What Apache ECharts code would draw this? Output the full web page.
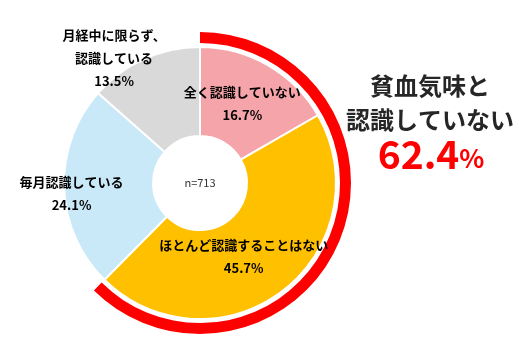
<!DOCTYPE html>
<html>
<head>
<meta charset="utf-8">
<script src="https://cdn.jsdelivr.net/npm/echarts@6/dist/echarts.min.js"></script>
<style>
  html, body { margin: 0; padding: 0; background: #fff; }
  #chart { width: 519px; height: 351px; }
</style>
</head>
<body>
<div id="chart"></div>
<script>
// 回答データ (n=713)
const categories = ['全く認識していない', 'ほとんど認識することはない', '毎月認識している', '月経中に限らず、\n認識している'];
const shares = [16.7, 45.7, 24.1, 13.5];
const sliceColors = ['#f5a5a9', '#ffc000', '#c9e9f8', '#d9d9d9'];
const sampleLabel = 'n=713';
const highlightTitle = '貧血気味と\n認識していない';

// 「認識していない」合計 = 先頭2項目
const notAware = Math.round((shares[0] + shares[1]) * 10) / 10;

// ラベル位置の微調整 (dx, dy)
const labelShift = [[-5, 2], [-14, -1], [-34, 7], [-47, -39]];

const chart = echarts.init(document.getElementById('chart'));
const font = '"Noto Sans CJK JP", "Noto Sans", sans-serif';

chart.setOption({
  animation: false,
  graphic: [
    {
      type: 'text', x: 200, y: 183, silent: true,
      style: { text: sampleLabel, textAlign: 'center', textVerticalAlign: 'middle',
        fontSize: 11, fontFamily: font, fill: '#333' }
    },
    {
      type: 'text', x: 430, y: 103, silent: true,
      style: { text: highlightTitle, textAlign: 'center', textVerticalAlign: 'middle',
        fontSize: 24, fontWeight: 'bold', lineHeight: 34, fontFamily: font, fill: '#262626' }
    },
    {
      type: 'text', x: 431, y: 154, silent: true,
      style: {
        text: '{a|' + notAware + '}{b|%}', textAlign: 'center', textVerticalAlign: 'middle',
        fill: '#ff0000',
        rich: {
          a: { fontSize: 39, fontWeight: 'bold', fontFamily: font, fill: '#ff0000' },
          b: { fontSize: 26, fontWeight: 'bold', fontFamily: font, fill: '#ff0000', padding: [9, 0, 0, 0] }
        }
      }
    }
  ],
  series: [
    {
      type: 'pie',
      silent: true,
      center: [200, 183],
      radius: [140, 151],
      startAngle: 90,
      clockwise: true,
      label: { show: false },
      labelLine: { show: false },
      data: [
        { value: notAware, itemStyle: { color: '#ff0000' } },
        { value: 100 - notAware, itemStyle: { color: 'rgba(0,0,0,0)' } }
      ]
    },
    {
      type: 'pie',
      silent: true,
      center: [200, 183],
      radius: [47, 136],
      startAngle: 90,
      clockwise: true,
      itemStyle: { borderColor: '#fff', borderWidth: 2 },
      label: {
        show: true,
        position: 'inside',
        formatter: p => p.name + '\n' + p.value.toFixed(1) + '%',
        fontFamily: font,
        fontSize: 13,
        fontWeight: 'bold',
        lineHeight: 23,
        color: '#000',
        align: 'center'
      },
      labelLayout: p => ({ dx: labelShift[p.dataIndex][0], dy: labelShift[p.dataIndex][1] }),
      data: categories.map((c, i) => ({ name: c, value: shares[i], itemStyle: { color: sliceColors[i] } }))
    }
  ]
});
</script>
</body>
</html>
